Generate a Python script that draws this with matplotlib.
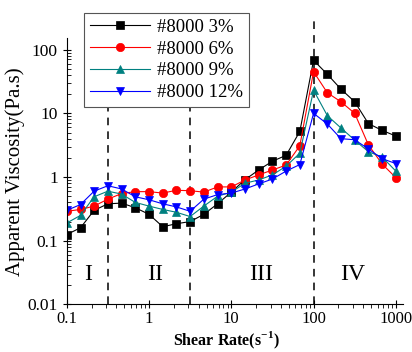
import matplotlib
matplotlib.use("Agg")
from matplotlib import pyplot as plt

plt.rcParams['font.family'] = ['Liberation Serif', 'DejaVu Serif']
plt.rcParams['mathtext.fontset'] = 'custom'
plt.rcParams['mathtext.rm'] = 'Liberation Serif'
plt.rcParams['mathtext.bf'] = 'Liberation Serif:bold'

# shear rate (1/s)
shear_rate = [0.1, 0.147, 0.215, 0.316, 0.464, 0.681, 1.0, 1.47, 2.15, 3.16,
              4.64, 6.81, 10, 14.7, 21.5, 31.6, 46.4, 68.1, 100, 147, 215,
              316, 464, 681, 1000]

# apparent viscosity (Pa.s)
visc_3 = [0.125, 0.16, 0.30, 0.38, 0.39, 0.33, 0.26, 0.166, 0.185, 0.2,
          0.26, 0.38, 0.58, 0.91, 1.29, 1.77, 2.19, 5.2, 68, 41, 24,
          15.2, 6.9, 5.4, 4.4]
visc_6 = [0.29, 0.31, 0.35, 0.45, 0.55, 0.59, 0.59, 0.56, 0.62, 0.61,
          0.58, 0.70, 0.70, 0.9, 1.08, 1.29, 1.54, 3.1, 45, 21, 15.2,
          10, 3.2, 1.6, 0.98]
visc_9 = [0.19, 0.25, 0.49, 0.60, 0.54, 0.40, 0.35, 0.31, 0.28, 0.24,
          0.35, 0.50, 0.58, 0.80, 0.9, 1.08, 1.48, 2.37, 23, 9.2, 5.9,
          3.8, 2.5, 2.06, 1.24]
visc_12 = [0.30, 0.37, 0.60, 0.73, 0.65, 0.49, 0.44, 0.38, 0.34, 0.29,
           0.45, 0.53, 0.56, 0.65, 0.78, 0.93, 1.24, 1.57, 10, 6.8, 4.0,
           3.85, 2.76, 1.94, 1.63]

labels = ['#8000 3%', '#8000 6%', '#8000 9%', '#8000 12%']
colors = ['black', 'red', '#008080', 'blue']
markers = ['s', 'o', '^', 'v']

boundaries = [0.316, 3.16, 100]
regions = ['I', 'II', 'III', 'IV']
region_x = [0.18, 1.2, 23, 300]

fig = plt.figure(figsize=(4.12, 3.52), dpi=100)
ax = fig.add_axes([0.162, 0.135, 0.816, 0.757])

for ys, lab, c, m in zip([visc_3, visc_6, visc_9, visc_12], labels, colors, markers):
    ax.plot(shear_rate, ys, color=c, marker=m, markersize=6, lw=0.8,
            label=lab, markeredgewidth=0.5)

for b in boundaries:
    ax.plot([b, b], [0.01, 300], color='black', ls=(0, (5, 4)), lw=1.1,
            clip_on=False, zorder=1)

for t, xr in zip(regions, region_x):
    ax.text(xr, 0.03, t, fontsize=17, ha='center', va='center')

ax.set_xscale('log')
ax.set_yscale('log')
ax.set_xlim(0.1, 1220)
ax.set_ylim(0.01, 152)
ax.set_xticks([0.1, 1, 10, 100, 1000])
ax.set_xticklabels(['0.1', '1', '10', '100', '1000'])
ax.set_yticks([0.01, 0.1, 1, 10, 100])
ax.set_yticklabels(['0.01', '0.1', '1', '10', '100'])
ax.tick_params(which='major', direction='inout', length=6, labelsize=12.5)
ax.tick_params(axis='x', which='major', pad=2, labelsize=12)
ax.tick_params(which='minor', direction='in', length=3)
ax.tick_params(axis='x', which='minor', direction='out')
ax.spines['top'].set_visible(False)
ax.spines['right'].set_visible(False)

fig.text(0.549, 0.02, r'Shear Rate(s$^{\mathbf{-1}}$)', fontsize=11.5,
         fontweight='bold', ha='center', va='baseline')
ax.set_ylabel('Apparent Viscosity(Pa.s)', fontsize=15, labelpad=2)

leg = ax.legend(loc='upper left', bbox_to_anchor=(0.204, 0.963),
                bbox_transform=fig.transFigure, borderaxespad=0,
                fontsize=13.5, handlelength=3.2, fancybox=False,
                framealpha=1, edgecolor='#555555', labelspacing=0.25,
                borderpad=0.3, handletextpad=0.4)
leg.get_frame().set_linewidth(0.8)

fig.savefig('out.png', dpi=100)
